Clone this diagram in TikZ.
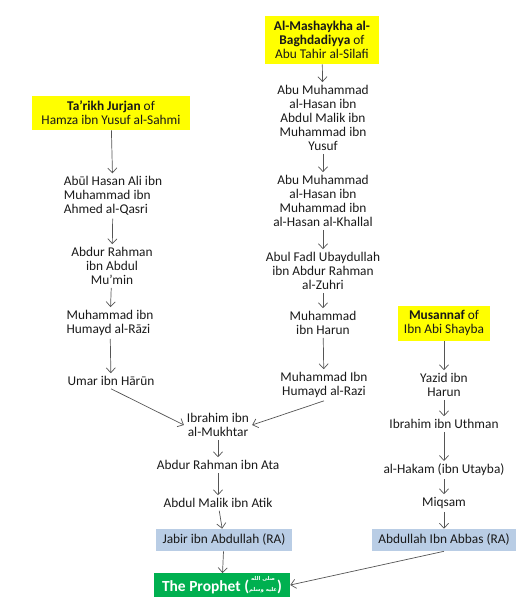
\documentclass[tikz,border=0pt]{standalone}
\usepackage{fontspec}
\setmainfont{Carlito}
\newfontfamily\arabicfont[Script=Arabic]{DejaVu Sans}
\TeXXeTstate=1
\usetikzlibrary{arrows.meta}
\definecolor{ink}{RGB}{25,25,25}
\definecolor{wire}{RGB}{85,85,85}
\definecolor{source}{RGB}{255,255,0}
\definecolor{companion}{RGB}{185,205,229}
\definecolor{prophetgreen}{RGB}{0,176,80}
\tikzset{
  every picture/.style={x=0.025cm, y=-0.025cm, color=ink, font=\fontsize{9.5}{10}\selectfont},
  narrator/.style={inner sep=2pt, align=center},
  leftnarr/.style={narrator, align=left},
  book/.style={fill=source, inner sep=3pt, align=center},
  sahabi/.style={fill=companion, inner sep=2pt, minimum height=0.55cm},
  prophetbox/.style={fill=prophetgreen, text=white, inner sep=2pt, minimum width=3.4cm, minimum height=0.58cm, font=\fontsize{11}{12}\selectfont\bfseries},
  chain/.style={-{Straight Barb[length=3.5pt,width=6.5pt]}, draw=wire, line width=0.5pt},
}
\newcommand{\saw}{\mbox{\arabicfont\fontsize{3.8}{5}\selectfont\shortstack{\beginR صلى الله\endR\\[1.4pt]\beginR عليه وسلم\endR}}}

\begin{document}
\begin{tikzpicture}
  \useasboundingbox (0,0) rectangle (530,607);
  % Ta'rikh Jurjan
  \node[book, minimum width=3.95cm, minimum height=0.85cm] (tarikh) at (111,113) {\textbf{Ta’rikh Jurjan} of\\Hamza ibn Yusuf al-Sahmi};
  \node[leftnarr] (qasri) at (113,196) {Abūl Hasan Ali ibn\\Muhammad ibn\\Ahmed al-Qasri};
  \node[narrator] (mumin) at (112,266) {Abdur Rahman\\ibn Abdul\\Mu’min};
  \node[leftnarr] (razi) at (110,323) {Muhammad ibn\\Humayd al-Rāzi};
  \node[narrator] (umar) at (111,381) {Umar ibn Hārūn};
  % al-Mashaykha al-Baghdadiyya
  \node[book, minimum width=2.83cm, minimum height=1.2cm] (mashaykha) at (322,40) {\textbf{Al-Mashaykha al-}\\\textbf{Baghdadiyya} of\\Abu Tahir al-Silafi};
  \node[narrator] (yusuf) at (323,118) {Abu Muhammad\\al-Hasan ibn\\Abdul Malik ibn\\Muhammad ibn\\Yusuf};
  \node[narrator] (khallal) at (323,201) {Abu Muhammad\\al-Hasan ibn\\Muhammad ibn\\al-Hasan al-Khallal};
  \node[narrator] (zuhri) at (323,271) {Abul Fadl Ubaydullah\\ibn Abdur Rahman\\al-Zuhri};
  \node[narrator] (harun) at (323,323) {Muhammad\\ibn Harun};
  \node[narrator] (humayd) at (324,385) {Muhammad Ibn\\Humayd al-Razi};
  % common chain
  \node[narrator] (mukhtar) at (218,425) {Ibrahim ibn\\al-Mukhtar};
  \node[narrator] (ata) at (218,465) {Abdur Rahman ibn Ata};
  \node[narrator] (atik) at (218,503) {Abdul Malik ibn Atik};
  \node[sahabi, minimum width=3.4cm] (jabir) at (224,540) {Jabir ibn Abdullah (RA)};
  \node[prophetbox] (prophet) at (222,585) {The Prophet (\saw)};
  % Musannaf
  \node[book, minimum width=2.3cm, minimum height=0.875cm] (musannaf) at (444,323) {\textbf{Musannaf} of\\Ibn Abi Shayba};
  \node[narrator] (yazid) at (444,385) {Yazid ibn\\Harun};
  \node[narrator] (uthman) at (444,424) {Ibrahim ibn Uthman};
  \node[narrator] (hakam) at (444,470) {al-Hakam (ibn Utayba)};
  \node[narrator] (miqsam) at (444,503) {Miqsam};
  \node[sahabi, minimum width=3.58cm] (abbas) at (444,540) {Abdullah Ibn Abbas (RA)};

  \draw[chain] (tarikh) -- (qasri);
  \draw[chain] (qasri) -- (mumin);
  \draw[chain] (mumin) -- (razi);
  \draw[chain] (razi) -- (umar);
  \draw[chain] (umar.south) -- (mukhtar.west);
  \draw[chain] (mashaykha) -- (yusuf);
  \draw[chain] (yusuf) -- (khallal);
  \draw[chain] (khallal) -- (zuhri);
  \draw[chain] (zuhri) -- (harun);
  \draw[chain] (harun) -- (humayd);
  \draw[chain] (humayd.south) -- (mukhtar.east);
  \draw[chain] (mukhtar) -- (ata);
  \draw[chain] (ata) -- (atik);
  \draw[chain] (atik) -- (jabir);
  \draw[chain] (jabir) -- (prophet);
  \draw[chain] (musannaf) -- (yazid);
  \draw[chain] (yazid) -- (uthman);
  \draw[chain] (uthman) -- (hakam);
  \draw[chain] (hakam) -- (miqsam);
  \draw[chain] (miqsam) -- (abbas);
  \draw[chain] (abbas.south) -- (prophet.east);
\end{tikzpicture}
\end{document}
